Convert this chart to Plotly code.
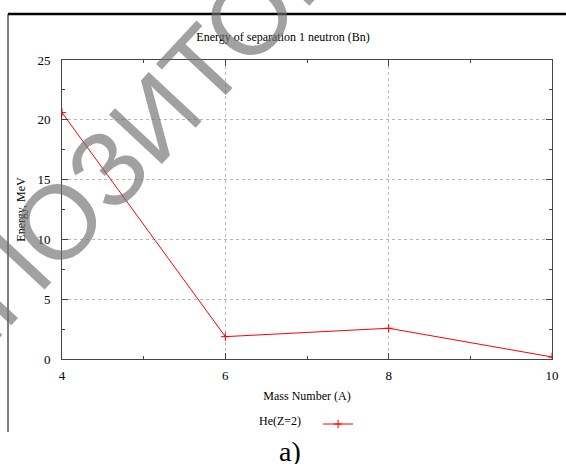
import plotly.graph_objects as go

# ---- data ----
mass_number = [4, 6, 8, 10]
energy_bn = [20.6, 1.87, 2.57, 0.17]
series_name = "He(Z=2)"
title_text = "Energy of separation 1 neutron (Bn)"
x_title = "Mass Number (A)"
y_title = "Energy, MeV"
x_ticks = [4, 6, 8, 10]
y_ticks = [0, 5, 10, 15, 20, 25]
caption = "a)"
watermark = "РЕПОЗИТОРИЙ"

SERIF = "Liberation Serif"
W, H = 566, 464
L, R, T, B = 62, 14, 60, 105
PW, PH = W - L - R, H - T - B


def px(x):
    return (x - L) / PW


def py(y):
    return (H - B - y) / PH


fig = go.Figure()
fig.add_trace(go.Scatter(
    x=mass_number, y=energy_bn, mode="lines+markers", name=" ",
    line=dict(color="#ff0000", width=1),
    marker=dict(symbol="cross-thin", size=6, color="#ff0000",
                line=dict(color="#ff0000", width=1)),
))

axis_common = dict(
    showline=True, mirror="allticks", linecolor="#444444", linewidth=1,
    ticks="inside", ticklen=6, tickcolor="#444444",
    showgrid=True, gridcolor="#b8b8b8", griddash="dot", gridwidth=1,
    zeroline=False,
    tickfont=dict(family=SERIF, size=13, color="black"),
)

fig.update_xaxes(
    range=[4, 10], tickvals=x_ticks, ticktext=[str(v) for v in x_ticks],
    minor=dict(dtick=1, ticks="inside", ticklen=3, tickcolor="#444444", showgrid=False),
    ticklabelstandoff=4, automargin=False,
    title=dict(text=x_title, font=dict(family=SERIF, size=12, color="black"), standoff=10),
    **axis_common,
)
fig.update_yaxes(
    range=[0, 25], tickvals=y_ticks, ticktext=[str(v) for v in y_ticks],
    minor=dict(dtick=2.5, ticks="inside", ticklen=3, tickcolor="#444444", showgrid=False),
    ticklabelstandoff=8, automargin=False,
    title=dict(text=y_title, font=dict(family=SERIF, size=12, color="black"), standoff=9),
    **axis_common,
)

fig.update_layout(
    width=W, height=H,
    margin=dict(l=L, r=R, t=T, b=B, autoexpand=False),
    paper_bgcolor="white", plot_bgcolor="white",
    title=dict(text=title_text, x=px(283), xref="paper", xanchor="center",
               y=1 - 37 / H, yref="container", yanchor="middle",
               font=dict(family=SERIF, size=12, color="black")),
    showlegend=True,
    legend=dict(
        orientation="h", x=px(257), xanchor="left", y=py(424), yanchor="middle",
        title=dict(text=series_name + "\u00a0\u00a0\u00a0", side="left",
                   font=dict(family=SERIF, size=12, color="black")),
        font=dict(family=SERIF, size=12, color="black"),
        bgcolor="rgba(0,0,0,0)",
    ),
    shapes=[
        dict(type="line", xref="paper", yref="paper", x0=px(8), x1=px(W + 5),
             y0=py(14), y1=py(14), line=dict(color="black", width=2.5)),
        dict(type="line", xref="paper", yref="paper", x0=px(8), x1=px(8),
             y0=py(14), y1=py(432), line=dict(color="black", width=1)),
    ],
    annotations=[
        dict(text=caption, xref="paper", yref="paper", x=px(290), y=py(451),
             xanchor="center", yanchor="middle", showarrow=False,
             font=dict(family=SERIF, size=28, color="black")),
        dict(text=watermark, xref="paper", yref="paper", x=px(155), y=py(117),
             xanchor="center", yanchor="middle", showarrow=False, textangle=-47,
             font=dict(family="Liberation Sans", size=105, color="rgba(110,110,110,0.65)")),
    ],
)

fig.write_html("out.html", config={"displayModeBar": False},
               post_script="document.body.style.margin='0px';document.body.style.overflow='hidden';")
